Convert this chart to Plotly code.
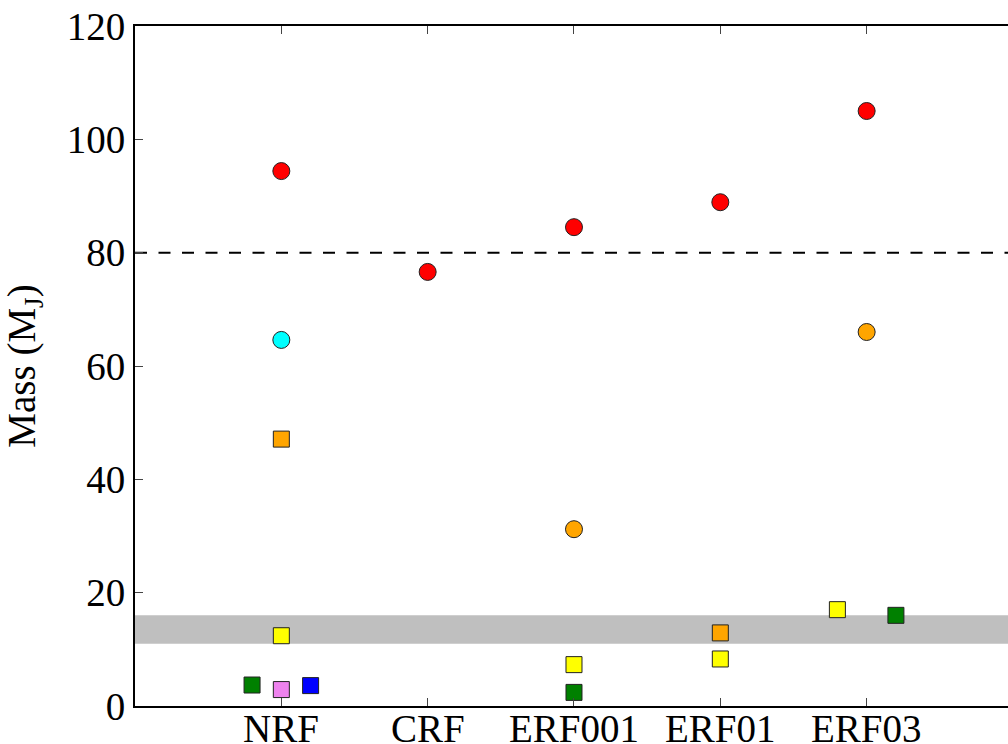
import plotly.graph_objects as go

categories = ["NRF", "CRF", "ERF001", "ERF01", "ERF03"]

# circle markers
circ_cat = ["NRF", "NRF", "CRF", "ERF001", "ERF001", "ERF01", "ERF03", "ERF03"]
circ_mass = [94.4, 64.6, 76.6, 84.5, 31.2, 88.9, 105.0, 66.0]
circ_color = ["red", "cyan", "red", "red", "orange", "red", "red", "orange"]

# square markers
sq_cat = ["NRF", "NRF", "NRF", "NRF", "NRF", "ERF001", "ERF001", "ERF01", "ERF01", "ERF03", "ERF03"]
sq_offset = [0.0, 0.0, -0.2, 0.0, 0.2, 0.0, 0.0, 0.0, 0.0, -0.2, 0.2]
sq_mass = [47.1, 12.4, 3.7, 2.9, 3.6, 7.3, 2.4, 12.9, 8.3, 17.0, 16.0]
sq_color = ["orange", "yellow", "green", "violet", "blue", "yellow", "green", "orange", "yellow", "yellow", "green"]

band_low, band_high = 11.0, 16.0
limit_mass = 80.0

cat_pos = {c: i + 1 for i, c in enumerate(categories)}
font_family = "Liberation Serif"
fsize = 39

fig = go.Figure()
fig.add_trace(go.Scatter(
    x=[cat_pos[c] for c in circ_cat], y=circ_mass, mode="markers",
    marker=dict(symbol="circle", size=17, color=circ_color,
                line=dict(color="#222222", width=1)),
    showlegend=False, cliponaxis=False))
fig.add_trace(go.Scatter(
    x=[cat_pos[c] + o for c, o in zip(sq_cat, sq_offset)], y=sq_mass, mode="markers",
    marker=dict(symbol="square", size=16, color=sq_color,
                line=dict(color="#222222", width=1)),
    showlegend=False, cliponaxis=False))

fig.add_shape(type="rect", xref="paper", yref="y", x0=0, x1=1, y0=band_low, y1=band_high,
              fillcolor="#bfbfbf", line=dict(width=0), layer="below")
fig.add_shape(type="line", xref="paper", yref="y", x0=0, x1=1, y0=limit_mass, y1=limit_mass,
              line=dict(color="black", width=2, dash="12px,11.5px"), layer="below")

for c in categories:
    fig.add_annotation(x=cat_pos[c], y=0, xref="x", yref="paper", text=c,
                       showarrow=False, yanchor="top", yshift=1,
                       font=dict(family=font_family, size=fsize, color="black"))

fig.update_layout(
    width=1008, height=744,
    margin=dict(l=135, r=0, t=26, b=38),
    plot_bgcolor="white", paper_bgcolor="white",
    font=dict(family=font_family, size=fsize, color="black"),
    xaxis=dict(range=[0, 5.966], tickmode="array", tickvals=[1, 2, 3, 4, 5],
               showticklabels=False, ticks="inside", ticklen=8, tickwidth=1,
               tickcolor="#444", showline=True, linecolor="black", linewidth=2,
               mirror="ticks", showgrid=False, zeroline=False, automargin=False),
    yaxis=dict(range=[0, 120], tickmode="array", tickvals=[0, 20, 40, 60, 80, 100, 120],
               ticks="inside", ticklen=8, tickwidth=1, tickcolor="#444",
               showline=True, linecolor="black", linewidth=2, mirror=False,
               showgrid=False, zeroline=False, automargin=False,
               tickfont=dict(family=font_family, size=fsize),
               title=dict(text="Mass (M<sub>J</sub>)",
                          font=dict(family=font_family, size=fsize), standoff=22)),
)

fig.write_html("out.html")
